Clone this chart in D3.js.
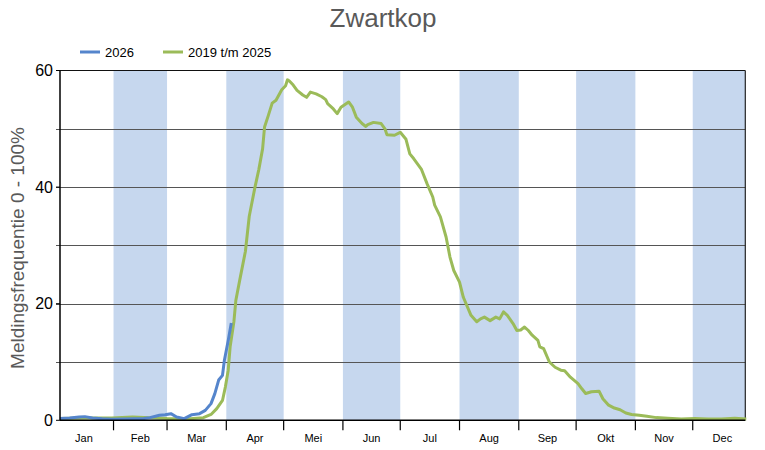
<!DOCTYPE html>
<html>
<head>
<meta charset="utf-8">
<script src="https://cdn.jsdelivr.net/npm/d3@7"></script>
<style>
  html, body { margin: 0; padding: 0; background: #fff; }
  svg { display: block; font-family: "Liberation Sans", Arial, sans-serif; }
</style>
</head>
<body>
<svg id="chart" width="765" height="450"></svg>
<script>
// ---------- data ----------
const months = ["Jan","Feb","Mar","Apr","Mei","Jun","Jul","Aug","Sep","Okt","Nov","Dec"];
const monthStarts = [0,31,59,90,120,151,181,212,243,273,304,334,365];
const yTickLabels = [0, 20, 40, 60];
const yGrid = [10, 20, 30, 40, 50];

const seriesNames = ["2026", "2019 t/m 2025"];

// 2019 t/m 2025 (day of year, value)
const greenDays = [3,10,20,30,41,50,59,65,71,78,82,85,88,89.5,91,92,94,95,97,100,102,105,107,109,110,112,114,116,117,119,121,122,123,125,127,130,132,134,137,140,142,143,146,148,150,154,156,158,161,163,164,167,171,173,174,178,181,184,186,188,190,192,195,198,199,202,205,207,209,212,214,218,221,223,225,228,231,233,235,237,240,242,244,246,248,250,253,254,256,259,262,265,267,270,274,276,278,281,285,287,290,293,296,299,302,306,310,315,321,328,335,342,349,356,362];
const greenValues = [0.3,0.35,0.4,0.4,0.55,0.45,0.3,0.25,0.25,0.45,1.0,2.0,3.4,5.7,8.6,12.6,17,20.6,24,29,35,40,43,46.6,50.3,52.3,54.4,54.9,55.5,56.7,57.4,58.4,58.2,57.5,56.6,55.8,55.4,56.3,56,55.5,55,54.3,53.4,52.6,53.7,54.6,53.7,52,50.9,50.4,50.7,51.1,50.9,50,49,48.9,49.4,48.2,45.7,44.9,44,43.1,40.6,38.3,36.9,34.9,31.4,28,25.7,23.7,21.1,18,16.9,17.4,17.7,17.1,17.7,17.4,18.6,18,16.6,15.4,15.5,16,15.4,14.6,13.7,12.6,12.3,10,9.1,8.6,8.5,7.4,6.3,5.4,4.6,4.9,5,3.7,2.6,2.1,1.8,1.25,1,0.86,0.69,0.46,0.34,0.22,0.29,0.22,0.22,0.34,0.22];

// 2026
const blueDays = [3,8,13,16,20,25,30,36,42,47,50,53,55,58,61,64,68,72,76,79,82,84,86,88,89,91,92.6];
const blueValues = [0.3,0.4,0.55,0.63,0.4,0.25,0.2,0.22,0.25,0.3,0.46,0.7,0.86,0.95,1.14,0.57,0.29,0.97,1.14,1.7,2.86,4.57,6.9,7.7,10.3,13.7,16.7];

// ---------- layout ----------
const svg = d3.select("#chart");
const pLeft = 60, pRight = 745.3, pTop = 70.5, pBottom = 420.3;

const x = d3.scaleLinear().domain([3, 361.5]).range([pLeft, pRight]);
const y = d3.scaleLinear().domain([0, 60]).range([pBottom, pTop]);

const blueCol = "#5585cc", greenCol = "#9bbb59", bandCol = "#c6d7ee";

// bands (even months)
const bandData = d3.range(1, 12, 2).map(i => [monthStarts[i], monthStarts[i+1]]);
svg.append("g").selectAll("rect").data(bandData).join("rect")
  .attr("x", d => Math.max(pLeft, x(d[0])))
  .attr("width", d => Math.min(pRight, x(d[1])) - Math.max(pLeft, x(d[0])))
  .attr("y", pTop).attr("height", pBottom - pTop)
  .attr("fill", bandCol);

// gridlines
svg.append("g").selectAll("line").data(yGrid).join("line")
  .attr("x1", 56).attr("x2", pRight)
  .attr("y1", d => Math.round(y(d)) + 0.5).attr("y2", d => Math.round(y(d)) + 0.5)
  .attr("stroke", "#555").attr("stroke-width", 1);

// top and right border
svg.append("line").attr("x1", 56).attr("x2", pRight).attr("y1", pTop).attr("y2", pTop)
  .attr("stroke", "#111").attr("stroke-width", 1.2);
svg.append("line").attr("x1", pRight).attr("x2", pRight).attr("y1", pTop).attr("y2", pBottom)
  .attr("stroke", "#222").attr("stroke-width", 1.2);

// lines
const line = d3.line().x(d => x(d[0])).y(d => y(d[1]));
svg.append("path")
  .datum(greenDays.map((d, i) => [d, greenValues[i]]))
  .attr("d", line).attr("fill", "none").attr("stroke", greenCol)
  .attr("stroke-width", 3).attr("stroke-linejoin", "round");
svg.append("path")
  .datum(blueDays.map((d, i) => [d, blueValues[i]]))
  .attr("d", line).attr("fill", "none").attr("stroke", blueCol)
  .attr("stroke-width", 3).attr("stroke-linejoin", "round");

// axes lines
svg.append("line").attr("x1", pLeft).attr("x2", pLeft).attr("y1", pTop).attr("y2", pBottom)
  .attr("stroke", "#000").attr("stroke-width", 1.5);
svg.append("line").attr("x1", pLeft).attr("x2", pRight).attr("y1", pBottom).attr("y2", pBottom)
  .attr("stroke", "#000").attr("stroke-width", 1.5);

// y tick marks & labels
svg.append("g").selectAll("line").data(yTickLabels).join("line")
  .attr("x1", 56).attr("x2", pLeft).attr("y1", d => y(d)).attr("y2", d => y(d))
  .attr("stroke", "#000");
svg.append("g").selectAll("text").data(yTickLabels).join("text")
  .attr("x", 53).attr("y", d => y(d) + 5.5)
  .attr("text-anchor", "end").attr("font-size", 16).attr("fill", "#000")
  .text(d => d);

// x ticks at month boundaries
svg.append("g").selectAll("line").data(monthStarts.slice(1, 12)).join("line")
  .attr("x1", d => x(d)).attr("x2", d => x(d)).attr("y1", pBottom).attr("y2", pBottom + 10)
  .attr("stroke", "#000").attr("stroke-width", 1.2);
svg.append("g").selectAll("text").data(months).join("text")
  .attr("x", (d, i) => x((monthStarts[i] + monthStarts[i+1]) / 2))
  .attr("y", 442)
  .attr("text-anchor", "middle").attr("font-size", 11).attr("fill", "#000")
  .text(d => d);

// y axis title
svg.append("text")
  .attr("transform", "translate(24,248) rotate(-90)")
  .attr("text-anchor", "middle").attr("font-size", 19).attr("fill", "#595959")
  .text("Meldingsfrequentie 0 - 100%");

// title
svg.append("text").attr("x", 383).attr("y", 27)
  .attr("text-anchor", "middle").attr("font-size", 26).attr("fill", "#595959")
  .text("Zwartkop");

// legend
const legend = [
  {name: seriesNames[0], color: blueCol, x: 80, tx: 105},
  {name: seriesNames[1], color: greenCol, x: 163, tx: 188}
];
const lg = svg.append("g").selectAll("g").data(legend).join("g");
lg.append("line").attr("x1", d => d.x).attr("x2", d => d.x + 20)
  .attr("y1", 52).attr("y2", 52).attr("stroke", d => d.color).attr("stroke-width", 3);
lg.append("text").attr("x", d => d.tx).attr("y", 56.5)
  .attr("font-size", 13).attr("fill", "#000").text(d => d.name);
</script>
</body>
</html>
